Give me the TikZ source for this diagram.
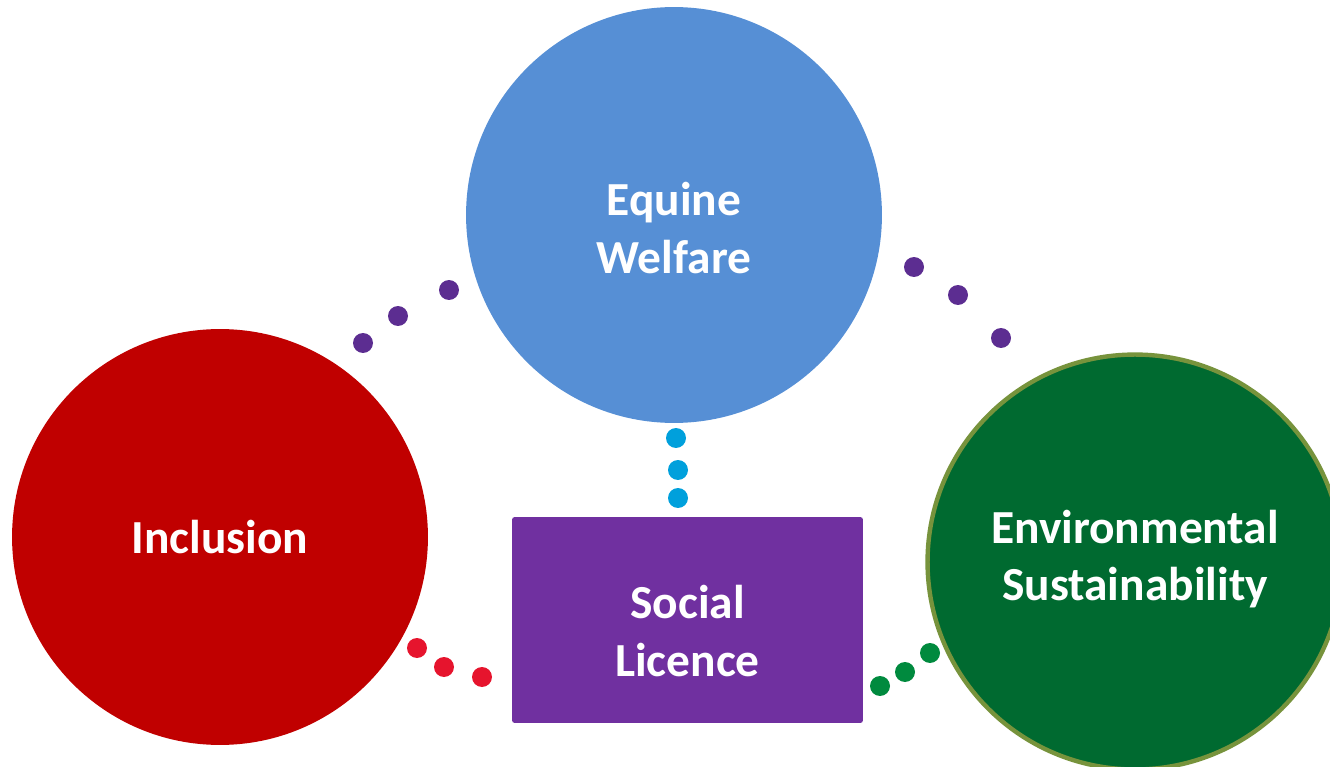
\documentclass[tikz,border=0pt]{standalone}
\usepackage{fontspec}
\setmainfont{Carlito}
\usetikzlibrary{positioning}

\definecolor{welfareblue}{RGB}{86,143,213}
\definecolor{inclred}{RGB}{192,0,0}
\definecolor{envgreen}{RGB}{0,106,48}
\definecolor{envolive}{RGB}{119,147,60}
\definecolor{licpurple}{RGB}{112,48,160}
\definecolor{dotpurple}{RGB}{92,45,145}
\definecolor{dotcyan}{RGB}{0,160,220}
\definecolor{dotred}{RGB}{230,20,45}
\definecolor{dotgreen}{RGB}{0,138,62}

\begin{document}
\begin{tikzpicture}[
            x=0.02cm, y=-0.02cm,
            bigcircle/.style={circle, minimum size=8.32cm, inner sep=0pt},
            licencebox/.style={rectangle, rounded corners=1.5pt, fill=licpurple, minimum width=7.02cm, minimum height=4.12cm},
            caption/.style={font=\fontsize{27}{32.5}\selectfont\bfseries, text=white, align=center},
            dot/.style={circle, minimum size=0.4cm, inner sep=0pt}]
            \useasboundingbox (0,0) rectangle (1330,767);
            \node[bigcircle, fill=welfareblue] (welfare) at (674,215) {};
            \node[bigcircle, fill=inclred] (inclusion) at (220,537) {};
            \node[bigcircle, fill=envgreen, draw=envolive, line width=2.5pt, minimum size=8.3cm] (environment) at (1135,562) {};
            \node[licencebox] (licence) at (687.5,620) {};
            \node[caption] (welfaretext) at ([yshift=-0.26cm]welfare.center) {Equine\\Welfare};
            \node[caption] (inclusiontext) at (inclusion.center) {Inclusion};
            \node[caption] (environmenttext) at ([yshift=0.05cm]environment.center) {Environmental\\Sustainability};
            \node[caption] (licencetext) at ([yshift=-0.22cm]licence.center) {Social\\Licence};
            % dots between the shapes
            \foreach \pos [count=\i] in {(363,343),(398,316),(449,290)}
                \node[dot, fill=dotpurple] (lpdot\i) at \pos {};
            \foreach \pos [count=\i] in {(914,267),(958,295),(1001,338)}
                \node[dot, fill=dotpurple] (rpdot\i) at \pos {};
            \foreach \pos [count=\i] in {(676,438),(678,470),(678,498)}
                \node[dot, fill=dotcyan] (cdot\i) at \pos {};
            \foreach \pos [count=\i] in {(417,648),(444,667),(482,677)}
                \node[dot, fill=dotred] (rdot\i) at \pos {};
            \foreach \pos [count=\i] in {(880,686),(905,672),(930,653)}
                \node[dot, fill=dotgreen] (gdot\i) at \pos {};
        \end{tikzpicture}
\end{document}
